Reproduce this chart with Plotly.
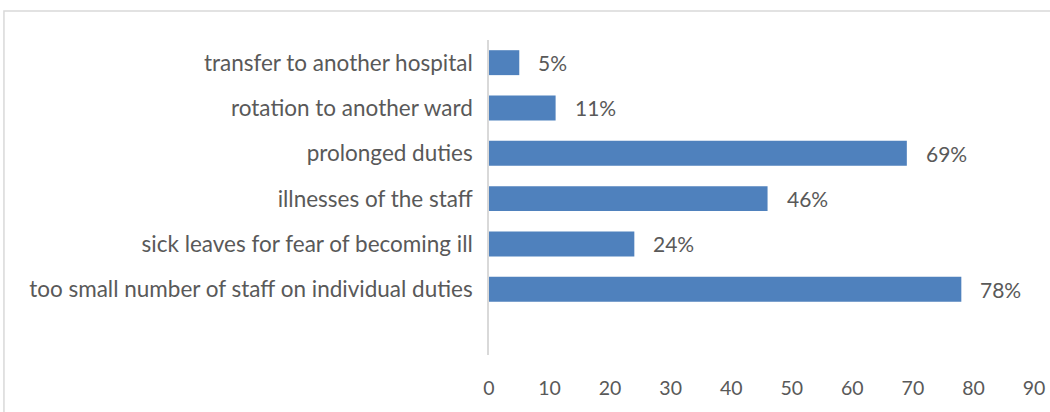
import plotly.graph_objects as go

categories = [
    "too small number of staff on individual duties",
    "sick leaves for fear of becoming ill",
    "illnesses of the staff",
    "prolonged duties",
    "rotation to another ward",
    "transfer to another hospital",
]
values = [78, 24, 46, 69, 11, 5]
labels = ["78%", "24%", "46%", "69%", "11%", "5%"]
x_ticks = [0, 10, 20, 30, 40, 50, 60, 70, 80, 90]

FONT = "Lato, Open Sans, sans-serif"
GRAY = "#595959"

fig = go.Figure()
fig.add_trace(go.Bar(
    y=categories, x=values, orientation="h",
    marker=dict(color="#4f81bd", line=dict(width=0)),
    width=0.55, hoverinfo="skip",
))

for c, v, t in zip(categories, values, labels):
    fig.add_annotation(x=v, y=c, text=t, showarrow=False, xanchor="left",
                       xshift=17, font=dict(family=FONT, size=21, color=GRAY))

# outer chart frame (extends past the right and bottom edges as in the reference)
fig.add_shape(type="rect", xref="paper", yref="paper",
              x0=-0.89, x1=1.2, y0=-0.4, y1=1.092,
              line=dict(color="#d9d9d9", width=1.5), layer="below")

fig.update_layout(
    width=1050, height=412,
    margin=dict(l=489, r=16, t=40, b=57, autoexpand=False),
    paper_bgcolor="white", plot_bgcolor="white",
    showlegend=False,
    font=dict(family=FONT, size=18, color=GRAY),
    xaxis=dict(range=[0, 90], tickvals=x_ticks, showgrid=False, zeroline=False,
               showline=False, ticks="outside", ticklen=16, automargin=False,
               tickcolor="rgba(0,0,0,0)", tickfont=dict(size=19.5, color=GRAY)),
    yaxis=dict(type="category", categoryorder="array", categoryarray=categories,
               range=[-1.45, 5.5], showgrid=False, zeroline=False, automargin=False,
               showline=True, linecolor="#d9d9d9", linewidth=1.5,
               ticks="outside", ticklen=10, tickcolor="rgba(0,0,0,0)",
               tickfont=dict(size=22.5, color=GRAY)),
)

fig.write_html("out.html", config={"displayModeBar": False},
               post_script="document.body.style.margin='0px';document.body.style.overflow='hidden';")
